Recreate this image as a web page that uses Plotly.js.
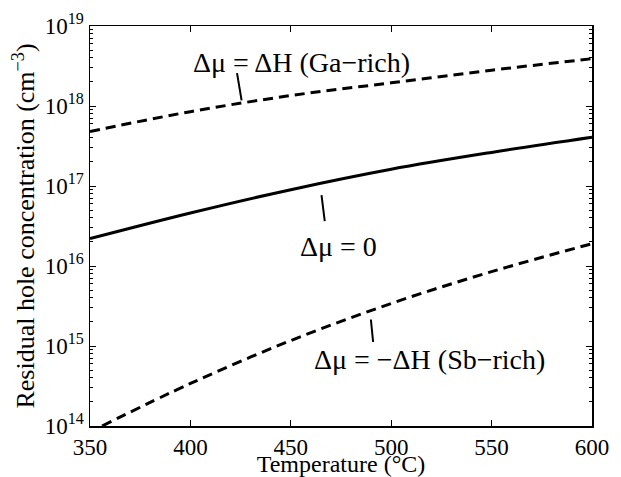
<!DOCTYPE html>
<html>
<head>
<meta charset="utf-8">
<script src="https://cdn.plot.ly/plotly-3.0.1.min.js"></script>
<style>html,body{margin:0;padding:0;background:#fff;}#chart{width:621px;height:477px;}</style>
</head>
<body>
<div id="chart"></div>
<script>
// Temperature (°C)
const temps = [350, 400, 450, 500, 550, 600];
const tempsSb = [356, 400, 450, 500, 550, 600];
// Residual hole concentration (cm^-3)
const gaRich = [4.8e17, 8.5e17, 1.35e18, 1.95e18, 2.8e18, 3.9e18];
const zeroMu = [2.2e16, 4.6e16, 9.0e16, 1.62e17, 2.63e17, 4.07e17];
const sbRich = [1.0e14, 3.4e14, 1.17e15, 3.4e15, 8.5e15, 1.9e16];
const xTicks = [350, 400, 450, 500, 550, 600];
const yTicks = [1e14, 1e15, 1e16, 1e17, 1e18, 1e19];
const yTickText = ['10<sup>14</sup>', '10<sup>15</sup>', '10<sup>16</sup>', '10<sup>17</sup>', '10<sup>18</sup>', '10<sup>19</sup>'];
const labels = ['\u0394\u03bc = \u0394H (Ga\u2212rich)', '\u0394\u03bc = 0', '\u0394\u03bc = \u2212\u0394H (Sb\u2212rich)'];

const minorVals = [];
for (let e = 14; e < 19; e++) for (let m = 2; m <= 9; m++) minorVals.push(m * Math.pow(10, e));

const FONT = 'Liberation Serif, Times New Roman, serif';
const lineStyle = (dash) => ({color: '#000', width: 3, dash: dash, shape: 'spline', smoothing: 1});

const traces = [
  {x: temps, y: gaRich, mode: 'lines', line: lineStyle('10px,6px'), hoverinfo: 'skip'},
  {x: temps, y: zeroMu, mode: 'lines', line: lineStyle('solid'), hoverinfo: 'skip'},
  {x: tempsSb, y: sbRich, mode: 'lines', line: lineStyle('10px,6px'), hoverinfo: 'skip'}
];

// label pointers (annotation arrows, log10 y coordinates as Plotly requires on log axes)
const pointer = (tx, ty, hx, hy) => ({
  x: hx, y: hy, ax: tx, ay: ty, xref: 'x', yref: 'y', axref: 'x', ayref: 'y',
  text: '', showarrow: true, arrowhead: 0, arrowwidth: 2, arrowcolor: '#000', standoff: 0, startstandoff: 0
});

const labelFont = {family: FONT, size: 28, color: '#000'};

const layout = {
  width: 621, height: 477,
  margin: {l: 90, r: 29, t: 26, b: 51},
  paper_bgcolor: '#fff', plot_bgcolor: '#fff',
  showlegend: false,
  font: {family: FONT, color: '#000', size: 22},
  xaxis: {
    range: [350, 600], tickmode: 'array', tickvals: xTicks,
    ticks: 'inside', ticklen: 6, tickwidth: 1, tickcolor: '#000',
    mirror: 'ticks', showline: true, linecolor: '#000', linewidth: 1.5,
    showgrid: false, zeroline: false,
    tickfont: {family: FONT, size: 23, color: '#000'},
    title: {text: 'Temperature (\u00b0C)', font: {family: FONT, size: 24, color: '#000'}, standoff: 0},
    automargin: false
  },
  yaxis: {
    type: 'log', range: [14, 19], tickmode: 'array', tickvals: yTicks, ticktext: yTickText,
    ticks: 'inside', ticklen: 6, tickwidth: 1, tickcolor: '#000',
    minor: {tickmode: 'array', tickvals: minorVals, ticks: 'inside', ticklen: 3, tickcolor: '#000', tickwidth: 1},
    mirror: 'ticks', showline: true, linecolor: '#000', linewidth: 1.5,
    showgrid: false, zeroline: false,
    tickfont: {family: FONT, size: 23, color: '#000'},
    title: {text: 'Residual hole concentration (cm<sup>\u22123</sup>)', font: {family: FONT, size: 26, color: '#000'}, standoff: 2},
    automargin: false
  },
  annotations: [
    {x: 455.5, y: 18.54, xref: 'x', yref: 'y', text: labels[0], showarrow: false, font: labelFont},
    {x: 473.8, y: 16.25, xref: 'x', yref: 'y', text: labels[1], showarrow: false, font: labelFont},
    {x: 519, y: 14.83, xref: 'x', yref: 'y', text: labels[2], showarrow: false, font: labelFont},
    pointer(423.1, 18.43, 425.5, 18.07),
    pointer(465.2, 16.905, 466.9, 16.56),
    pointer(489.8, 15.35, 491.0, 15.05)
  ]
};

Plotly.newPlot('chart', traces, layout, {staticPlot: true, displayModeBar: false});
</script>
</body>
</html>
